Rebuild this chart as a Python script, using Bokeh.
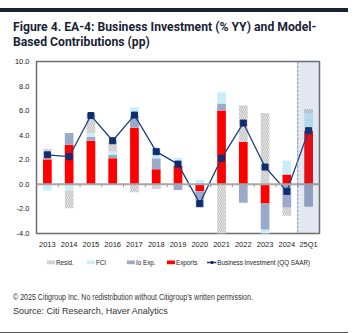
from bokeh.plotting import figure
from bokeh.models import (Range1d, FactorRange, Span, BoxAnnotation, Legend, LegendItem, Div,
                          ColumnDataSource, NumeralTickFormatter, FixedTicker)
from bokeh.layouts import column
from bokeh.transform import dodge
from bokeh.embed import file_html
from bokeh.resources import INLINE

years = ["2013", "2014", "2015", "2016", "2017", "2018", "2019", "2020", "2021", "2022", "2023", "2024", "25Q1"]
exports = [2.05, 3.23, 3.55, 2.12, 4.61, 1.22, 1.52, -0.57, 6.02, 3.47, -1.55, 0.81, 4.37]
io_exp = [0.0, 0.95, 0.33, 0.30, 0.98, 0.90, -0.46, -0.68, 0.57, -1.49, -2.14, -1.90, -1.82]
fci = [-0.50, -0.50, 0.27, 0.25, 0.68, 0.87, 0.62, 0.38, 0.90, 0.0, -0.35, 1.14, 1.43]
resid = [0.83, -1.45, 1.55, 0.90, -0.65, -0.38, 0.0, -0.68, -4.0, 2.95, 5.80, -0.65, 0.33]
bus_inv = [2.40, 2.25, 5.60, 3.55, 5.64, 2.66, 1.65, -1.55, 2.12, 4.99, 1.41, -0.57, 4.37]
y_ticks = [-4, -2, 0, 2, 4, 6, 8, 10]

title_text = "Figure 4. EA-4: Business Investment (% YY) and Model-<br>Based Contributions (pp)"
copyright_text = "\u00a9 2025 Citigroup Inc. No redistribution without Citigroup\u2019s written permission."
source_text = "Source: Citi Research, Haver Analytics"

W = 358
HEAD_H, FIG_H, LEG_H, FOOT_H = 50, 203, 17, 63

header = Div(text=(
    "<div style='width:358px;height:50px;box-sizing:border-box;padding-top:8px;'>"
    "<div style='width:348px;border-top:4px solid #1c2236;padding:8px 0 0 13px;box-sizing:border-box;"
    "font-family:Roboto;font-weight:bold;font-size:12.2px;line-height:15px;color:#1a1f36;'>"
    + title_text + "</div></div>"), width=W, height=HEAD_H, margin=0)

p = figure(width=W, height=FIG_H, x_range=FactorRange(*years), y_range=Range1d(-4, 10),
           output_backend="svg", toolbar_location=None, margin=0,
           min_border_left=36, min_border_right=39, min_border_top=11, min_border_bottom=20)
p.xgrid.visible = False
p.ygrid.visible = False
p.outline_line_color = "#6e6e6e"
p.outline_line_width = 1.5

# stacking: positives upward, negatives downward
series = [("Exports", exports), ("Io Exp.", io_exp), ("FCI", fci), ("Resid.", resid)]
pos = [0.0] * len(years)
neg = [0.0] * len(years)
stacks = {}
for name, vals in series:
    bot, top = [], []
    for i, v in enumerate(vals):
        if v >= 0:
            bot.append(pos[i]); top.append(pos[i] + v); pos[i] += v
        else:
            bot.append(neg[i]); top.append(neg[i] + v); neg[i] += v
    stacks[name] = (bot, top)

styles = {
    "Exports": dict(fill_color="#ff0000"),
    "Io Exp.": dict(fill_color="#9aaac8"),
    "FCI": dict(fill_color="#c9eefa"),
    "Resid.": dict(fill_color="#f2f2f2", hatch_pattern="\\", hatch_color="#c2c2c2", hatch_scale=4, hatch_weight=1.2),
}
for name, _ in series:
    bot, top = stacks[name]
    src = ColumnDataSource(dict(x=years, bottom=bot, top=top))
    p.vbar(x="x", bottom="bottom", top="top", width=0.4, source=src, line_color=None, **styles[name])

p.add_layout(Span(location=0, dimension="width", line_color="#a6a6a6", line_width=2))
tsrc = ColumnDataSource(dict(x=years[:-1], y0=[0] * (len(years) - 1), y1=[-0.22] * (len(years) - 1)))
p.segment(x0=dodge("x", 0.5, range=p.x_range), x1=dodge("x", 0.5, range=p.x_range),
          y0="y0", y1="y1", source=tsrc, line_color="#8c8c8c", line_width=1)

line_style = dict(line_color="#1f3f80", line_width=1.3)
lsrc = ColumnDataSource(dict(x=years, y=bus_inv))
p.line("x", "y", source=lsrc, **line_style)
p.scatter("x", "y", source=lsrc, marker="square", size=6, fill_color="#0f2d6e", line_color="#0f2d6e")

n = len(years)
p.add_layout(BoxAnnotation(left=n - 1, right=n, fill_color="#445f94", fill_alpha=0.15, line_color=None))
p.add_layout(Span(location=n - 1, dimension="height", line_color="#7f90b0", line_width=1, line_dash="3 1"))

p.yaxis.ticker = FixedTicker(ticks=y_ticks)
p.yaxis.formatter = NumeralTickFormatter(format="0.0")
for ax in (p.xaxis[0], p.yaxis[0]):
    ax.axis_line_color = None
    ax.major_tick_line_color = None
    ax.minor_tick_line_color = None
    ax.major_tick_out = 0
    ax.major_tick_in = 0
    ax.minor_tick_out = 0
    ax.minor_tick_in = 0
    ax.major_label_text_font = "Liberation Sans"
    ax.major_label_text_font_size = "7.5px"
    ax.major_label_text_color = "#222222"
p.yaxis.major_label_standoff = 7
p.xaxis.major_label_standoff = 6

# legend strip (its own small figure; off-range sample glyphs feed the legend)
lg = figure(width=W, height=LEG_H, x_range=Range1d(0, 1), y_range=Range1d(0, 1),
            output_backend="svg", toolbar_location=None, margin=0,
            min_border=0, outline_line_color=None)
lg.axis.visible = False
lg.grid.visible = False
def sample_bar(style):
    s = ColumnDataSource(dict(x=[-10], bottom=[-10], top=[-9]))
    return lg.vbar(x="x", bottom="bottom", top="top", width=0.4, source=s, line_color=None, **style)
r_res = sample_bar(styles["Resid."])
r_fci = sample_bar(styles["FCI"])
r_io = sample_bar(styles["Io Exp."])
r_ex = sample_bar(styles["Exports"])
e2 = ColumnDataSource(dict(x=[-10, -9], y=[-10, -10]))
r_ln = lg.line("x", "y", source=e2, **line_style)
r_sc = lg.scatter("x", "y", source=e2, marker="square", size=4, fill_color="#0f2d6e", line_color="#0f2d6e")
legend = Legend(items=[
    LegendItem(label="Resid.", renderers=[r_res]),
    LegendItem(label="FCI", renderers=[r_fci]),
    LegendItem(label="Io Exp.", renderers=[r_io]),
    LegendItem(label="Exports", renderers=[r_ex]),
    LegendItem(label="Business Investment (QQ SAAR)", renderers=[r_ln, r_sc]),
], orientation="horizontal", location="center", border_line_color=None, background_fill_alpha=0,
    label_text_font="Liberation Sans", label_text_font_size="6.3px", label_text_color="#222222",
    glyph_width=10, glyph_height=5, label_standoff=1, spacing=9, padding=0, margin=0,
    label_height=9)
lg.add_layout(legend)

footer = Div(text=(
    "<div style='width:348px;height:63px;box-sizing:border-box;border-bottom:1.5px solid #555555;"
    "padding:21px 0 0 13px;font-family:\"Liberation Sans\";color:#333333;white-space:nowrap;'>"
    "<div style='font-size:8.3px;line-height:13px;transform:scaleX(0.85);transform-origin:left;'>" + copyright_text + "</div>"
    "<div style='font-size:9.8px;line-height:14px;transform:scaleX(0.92);transform-origin:left;'>" + source_text + "</div></div>"),
    width=W, height=FOOT_H, margin=0)

layout = column(header, p, lg, footer, spacing=0)
open("out.html", "w").write(file_html(layout, INLINE))
